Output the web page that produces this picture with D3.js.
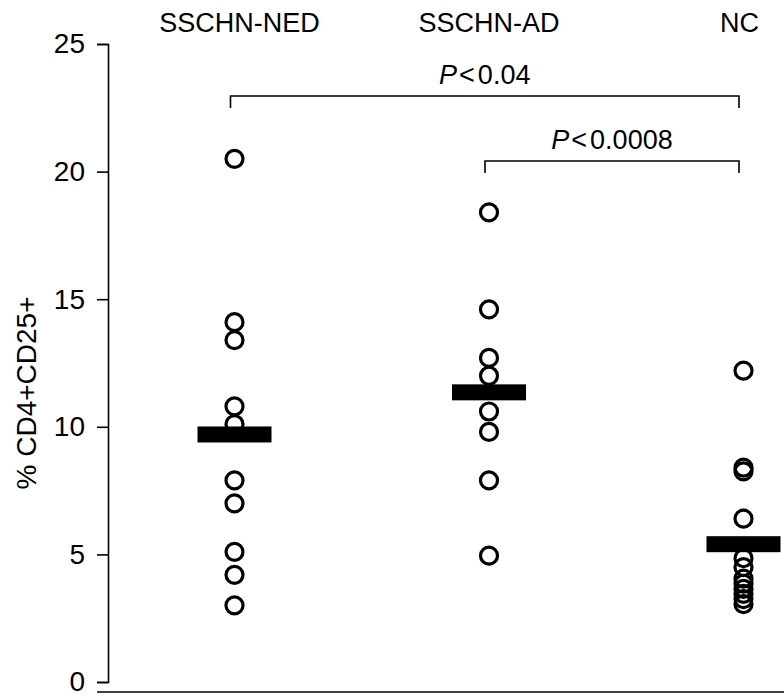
<!DOCTYPE html>
<html>
<head>
<meta charset="utf-8">
<script src="https://cdn.jsdelivr.net/npm/d3@7"></script>
<style>
  html, body { margin: 0; padding: 0; background: #fff; }
  svg { display: block; }
  text { font-family: "Liberation Sans", Arial, Helvetica, sans-serif; fill: #000; }
</style>
</head>
<body>
<svg id="chart" width="784" height="697"></svg>
<script>
// ---- data ----
const categories = ["SSCHN-NED", "SSCHN-AD", "NC"];
const nedValues = [20.5, 14.1, 13.4, 10.8, 10.1, 7.9, 7.0, 5.1, 4.2, 3.0];
const adValues  = [18.4, 14.6, 12.7, 12.0, 10.6, 9.8, 7.9, 4.95];
const ncValues  = [12.2, 8.4, 8.25, 6.4, 4.85, 4.5, 4.05, 3.85, 3.65, 3.45, 3.25, 3.05];
const means     = [9.7, 11.35, 5.4];
const yTicks    = [0, 5, 10, 15, 20, 25];
const comparisons = [
  { from: "SSCHN-NED", to: "NC", p: "0.04" },
  { from: "SSCHN-AD",  to: "NC", p: "0.0008" }
];
const yLabel = "% CD4+CD25+";

const seriesValues = [nedValues, adValues, ncValues];

// ---- layout ----
const svg = d3.select("#chart");
const x = d3.scalePoint().domain(categories).range([234.5, 743.5]);
const y = d3.scaleLinear().domain([0, 25]).range([682, 44]);
const axisX = 108;

// y axis
const yAxis = d3.axisLeft(y).tickValues(yTicks).tickSize(11).tickPadding(12).tickFormat(d3.format("d"));
const gY = svg.append("g").attr("transform", `translate(${axisX},0)`).call(yAxis);
gY.selectAll("path, line").attr("stroke", "#000").attr("stroke-width", 1.6);
gY.selectAll("text").attr("font-size", 28).attr("font-family", "Liberation Sans, Arial, sans-serif").attr("fill", "#000");

// bottom baseline
svg.append("line")
  .attr("x1", axisX - 11).attr("x2", 784)
  .attr("y1", 692).attr("y2", 692)
  .attr("stroke", "#000").attr("stroke-width", 1.6);

// y label
svg.append("text")
  .attr("transform", `translate(36,${(y(0) + y(25)) / 2 + 30}) rotate(-90)`)
  .attr("text-anchor", "middle")
  .attr("font-size", 28)
  .text(yLabel);

// category headers
svg.selectAll(".hdr").data(categories).enter().append("text")
  .attr("class", "hdr")
  .attr("x", (d, i) => x(d) + (i === 0 ? 5 : (i === 2 ? -4 : 0)))
  .attr("y", 32)
  .attr("text-anchor", "middle")
  .attr("font-size", 27)
  .text(d => d);

// points
categories.forEach((c, i) => {
  svg.append("g").selectAll("circle").data(seriesValues[i]).enter().append("circle")
    .attr("cx", x(c))
    .attr("cy", d => y(d))
    .attr("r", 8.5)
    .attr("fill", "none")
    .attr("stroke", "#000")
    .attr("stroke-width", 3.2);
});

// mean bars
const barW = 74, barH = 16;
svg.selectAll(".mean").data(means).enter().append("rect")
  .attr("class", "mean")
  .attr("x", (d, i) => x(categories[i]) - barW / 2)
  .attr("y", d => y(d) - barH / 2)
  .attr("width", barW)
  .attr("height", barH)
  .attr("fill", "#000");

// significance brackets
const bracketY = [96, 161];
comparisons.forEach((cmp, i) => {
  const x1 = x(cmp.from) - 4, x2 = x(cmp.to) - 4.5, by = bracketY[i];
  svg.append("path")
    .attr("d", `M${x1},${by + 12}V${by}H${x2}V${by + 12}`)
    .attr("fill", "none")
    .attr("stroke", "#000")
    .attr("stroke-width", 1.6);
  const t = svg.append("text")
    .attr("x", (x1 + x2) / 2)
    .attr("y", by - 12)
    .attr("text-anchor", "middle")
    .attr("font-size", 27);
  t.append("tspan").attr("font-style", "italic").text("P");
  t.append("tspan").attr("dx", 2).text("<");
  t.append("tspan").attr("dx", 3).text(cmp.p);
});
</script>
</body>
</html>
